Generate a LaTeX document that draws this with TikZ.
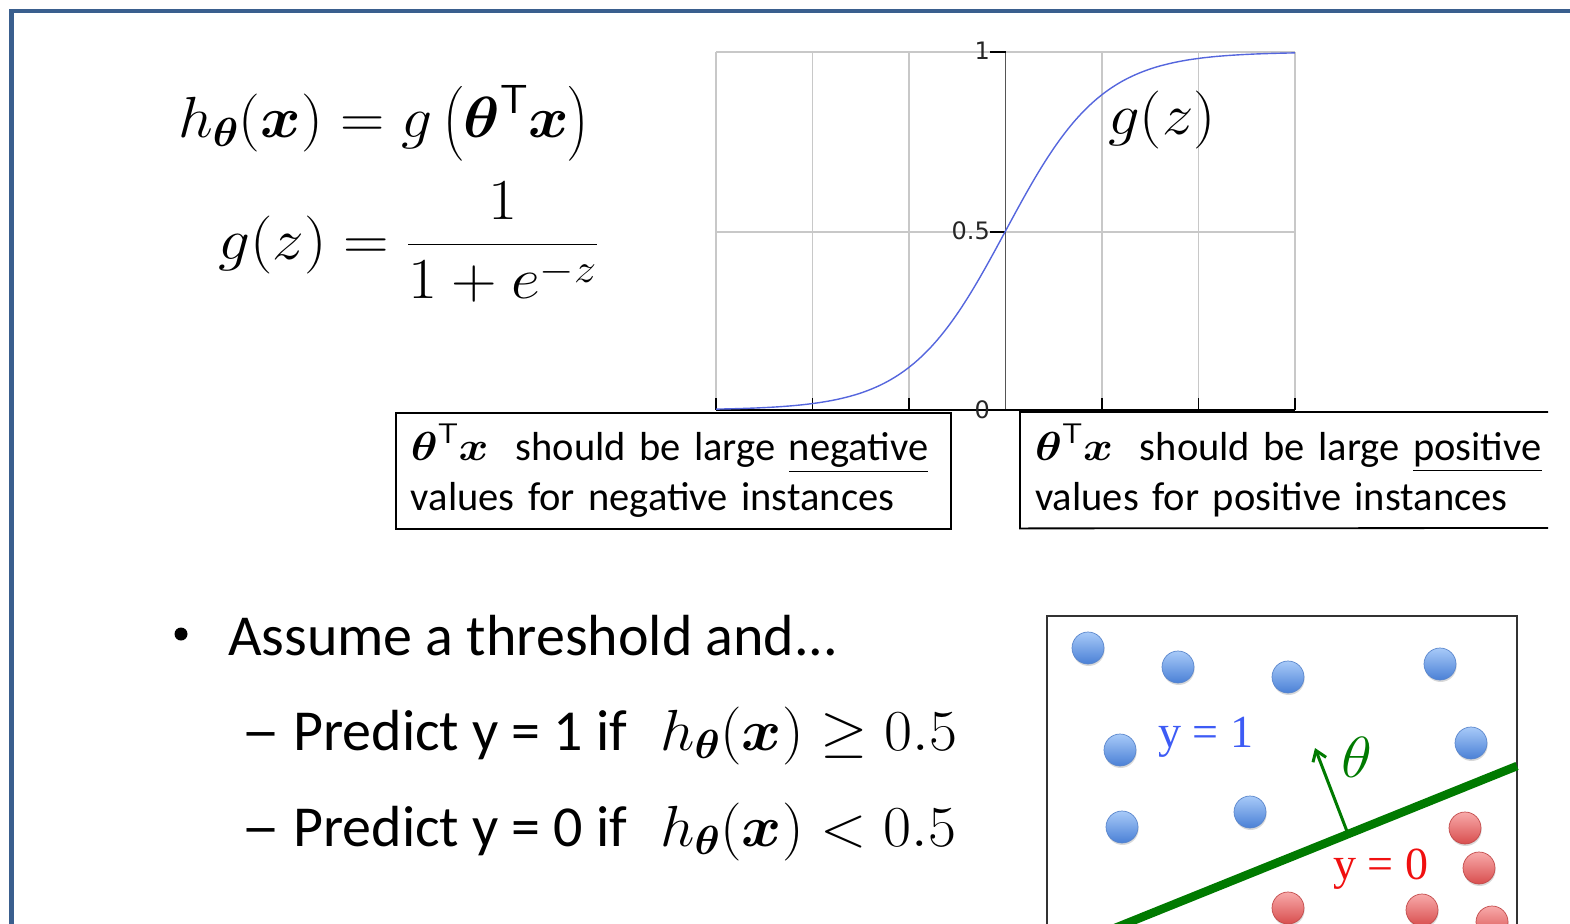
\RequirePackage{fix-cm}
\documentclass[tikz,border=0pt]{standalone}
\usepackage{amsmath}
\usepackage[no-math]{fontspec}
\setmainfont{Carlito}
\newfontfamily\tickfont{DejaVu Sans}
\newfontfamily\yfont{Liberation Serif}
\usetikzlibrary{shadows,arrows.meta}
\definecolor{framec}{HTML}{3A5F8E}
\definecolor{gridc}{HTML}{C8C8C8}
\definecolor{axisc}{HTML}{555555}
\definecolor{curvec}{HTML}{5566DD}
\definecolor{greenc}{HTML}{007A00}
\definecolor{ybluec}{HTML}{3D5BF5}
\definecolor{yredc}{HTML}{F01010}
\definecolor{btop}{HTML}{A8CAF8}
\definecolor{bbot}{HTML}{4A80D6}
\definecolor{bdraw}{HTML}{5A86CC}
\definecolor{rtop}{HTML}{F8AAAA}
\definecolor{rbot}{HTML}{D84E4E}
\definecolor{rdraw}{HTML}{C24A4A}
\newcommand{\mybt}{\boldsymbol{\theta}}
\newcommand{\mybx}{\boldsymbol{x}}
\newcommand{\wide}[2]{\scalebox{#1}[1]{#2}}
\tikzset{
  gridline/.style={gridc, line width=1.2pt},
  tickline/.style={black, line width=1.6pt},
  mathbig/.style={inner sep=0pt, font=\fontsize{58}{70}\selectfont},
  bodytext/.style={inner sep=0pt, font=\fontsize{58}{70}\selectfont},
  tbox/.style={inner xsep=15pt, inner ysep=0pt, align=left, text width=525pt,
     minimum height=116pt, font=\fontsize{40.5}{50}\selectfont},
  ticklab/.style={inner sep=0pt, font=\tickfont\fontsize{24}{26}\selectfont, text=black!85},
  bdot/.style={circle, inner sep=0pt, minimum size=32pt, draw=bdraw, line width=0.7pt,
     top color=btop, bottom color=bbot,
     drop shadow={opacity=0.3, shadow xshift=0.6pt, shadow yshift=-2pt}},
  rdot/.style={circle, inner sep=0pt, minimum size=32pt, draw=rdraw, line width=0.7pt,
     top color=rtop, bottom color=rbot,
     drop shadow={opacity=0.3, shadow xshift=0.6pt, shadow yshift=-2pt}},
}
\begin{document}
\begin{tikzpicture}[x=1pt,y=-1pt]
\useasboundingbox (0,0) rectangle (1570,923);
% frame
\coordinate (fbl) at (11.5,940);
\coordinate (ftl) at (11.5,11);
\coordinate (ftr) at (1590,11);
\draw[framec, line width=4.5pt] (fbl) -- (ftl) -- (ftr);
% formulas
\node[mathbig, anchor=base west] (heq) at (178,138)
  {\wide{1.06}{$h_{\mybt}(\mybx)=g\left(\mybt^{\mathsf{T}}\mybx\right)$}};
\node[mathbig, anchor=base west] (geq) at (218,259)
  {\wide{1.09}{$\displaystyle g(z)=\frac{1}{1+e^{-z}}$}};
% plot grid
\foreach \gx in {716,812.5,909,1102,1198.5,1295}{
  \draw[gridline] (\gx,52) -- (\gx,410);
  \draw[tickline] (\gx,398) -- (\gx,410);
}
\draw[gridline] (716,52) -- (1295,52);
\draw[gridline] (716,232) -- (1295,232);
\draw[axisc, line width=1.6pt] (1005.5,52) -- (1005.5,410);
\draw[tickline] (716,410) -- (1295,410);
\draw[tickline] (990,52) -- (1005.5,52);
\draw[tickline] (990,232) -- (1005.5,232);
\draw[tickline] (990,410) -- (1005.5,410);
\node[ticklab, anchor=east] (t1) at (990,51) {1};
\node[ticklab, anchor=east] (t05) at (990,231) {0.5};
\node[ticklab, anchor=east] (t0) at (990,410) {0};
\draw[curvec, line width=1.4pt] plot[domain=-6:6, samples=121, smooth]
  ({1005.5+48.25*\x},{410-358/(1+exp(-\x))});
\node[mathbig, anchor=base west] (gz) at (1108,135) {\wide{1.08}{$g(z)$}};
% boxes
\node[tbox, draw, line width=1.8pt, anchor=north west] (lbox) at (395,412)
  {\wide{1.12}{$\mybt^{\mathsf{T}}\mybx$}\ \ should be large \underline{negative}\\values for negative instances};
\node[tbox, anchor=north west] (rbox) at (1020,412)
  {\wide{1.12}{$\mybt^{\mathsf{T}}\mybx$}\ \ should be large \underline{positive}\\values for positive instances};
\coordinate (rbne) at (1548,412);
\coordinate (rbse) at (1548,528);
\draw[black, line width=1.8pt] (rbne) -- (rbox.north west) -- (rbox.south west) -- (rbse);
% bullets
\node[circle, fill=black, inner sep=0pt, minimum size=13pt] (bul) at (181,634) {};
\node[bodytext, anchor=base west] (assume) at (228,655) {Assume a threshold and...};
\node[bodytext, anchor=base west] (p1) at (241,750) {\wide{1.35}{\textendash}\ Predict y = 1 if};
\node[mathbig, anchor=base west] (m1) at (660,750) {\wide{1.05}{$h_{\mybt}(\mybx)\geq 0.5$}};
\node[bodytext, anchor=base west] (p2) at (241,846) {\wide{1.35}{\textendash}\ Predict y = 0 if};
\node[mathbig, anchor=base west] (m2) at (660,846) {\wide{1.05}{$h_{\mybt}(\mybx)< 0.5$}};
% classification panel
\coordinate (pbl) at (1047,940);
\coordinate (ptl) at (1047,616);
\coordinate (ptr) at (1517,616);
\coordinate (pbr) at (1517,940);
\draw[black!80, line width=2pt] (pbl) -- (ptl) -- (ptr) -- (pbr);
\foreach \n/\px/\py in {b1/1088/648, b2/1178/667, b3/1288/677, b4/1440/664,
   b5/1120/750, b6/1471/743, b7/1122/827, b8/1250/812}{
  \node[bdot] (\n) at (\px,\py) {};
}
\foreach \n/\px/\py in {r1/1465/828, r2/1479/868, r3/1288/908, r4/1422/910, r5/1492/922, r6/1396/944}{
  \node[rdot] (\n) at (\px,\py) {};
}
\coordinate (lineA) at (1110,930);
\coordinate (lineB) at (1517,766);
\draw[greenc, line width=8.5pt] (lineA) -- (lineB);
\coordinate (abase) at (1348,834);
\coordinate (atip) at (1315,748);
\draw[greenc, line width=3pt, -{Straight Barb[length=10pt,width=14pt]}] (abase) -- (atip);
\node[mathbig, text=greenc, anchor=center] (th) at (1357,757) {\wide{1.1}{$\theta$}};
\node[inner sep=0pt, font=\yfont\fontsize{46}{50}\selectfont, text=ybluec, anchor=base west] (y1) at (1158,747) {y = 1};
\node[inner sep=0pt, font=\yfont\fontsize{46}{50}\selectfont, text=yredc, anchor=base west] (y0) at (1333,879) {y = 0};
\end{tikzpicture}
\end{document}
